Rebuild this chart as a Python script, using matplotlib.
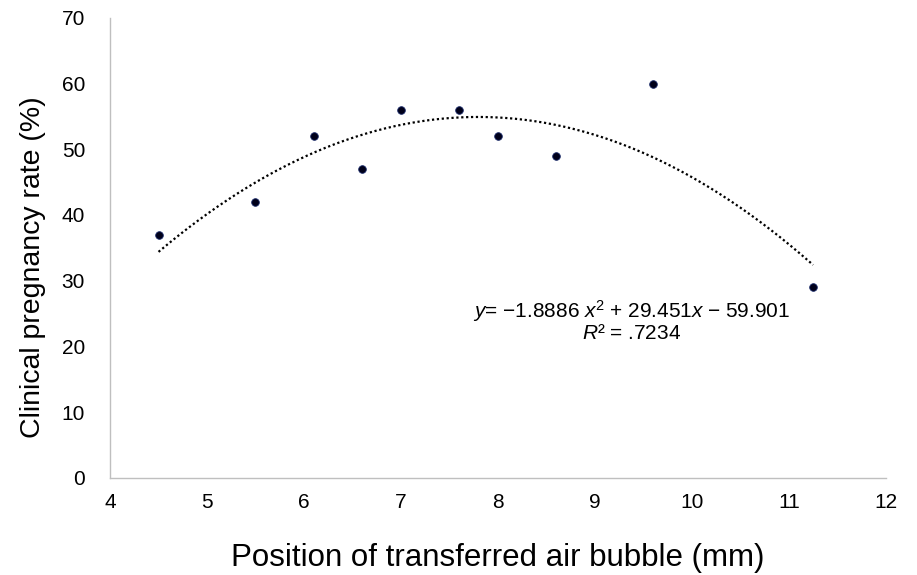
import numpy as np
import matplotlib.pyplot as plt

plt.rcParams["font.family"] = ["Liberation Sans", "DejaVu Sans"]
plt.rcParams["mathtext.fontset"] = "custom"
plt.rcParams["mathtext.rm"] = "Liberation Sans"
plt.rcParams["mathtext.it"] = "Liberation Sans:italic"

# data
position_mm = [4.5, 5.5, 6.1, 6.6, 7.0, 7.6, 8.0, 8.6, 9.6, 11.25]
pregnancy_rate = [37, 42, 52, 47, 56, 56, 52, 49, 60, 29]

# quadratic trendline as printed on the chart
trend_coef = [-1.8886, 29.451, -59.901]
r_squared = ".7234"

fig = plt.figure(figsize=(9.17, 5.75), dpi=100)
ax = fig.add_axes([0.12, 0.169, 0.846, 0.8])

xs = np.linspace(min(position_mm), max(position_mm), 200)
ax.plot(xs, np.polyval(trend_coef, xs), color="black", linestyle=(0, (1, 1.2)), linewidth=1.6)

ax.plot(position_mm, pregnancy_rate, "o", markersize=5.5,
        markerfacecolor="#00001a", markeredgecolor="#1a2a6a", markeredgewidth=0.6)

ax.set_xlim(4, 12)
ax.set_ylim(0, 70)
ax.set_xticks(range(4, 13))
ax.set_yticks(range(0, 71, 10))
ax.tick_params(length=0, labelsize=15, colors="black")
ax.tick_params(axis="x", pad=11)
ax.tick_params(axis="y", pad=18)

for s in ["top", "right"]:
    ax.spines[s].set_visible(False)
for s in ["left", "bottom"]:
    ax.spines[s].set_color("#bfbfbf")
    ax.spines[s].set_linewidth(1.0)

ax.set_xlabel("Position of transferred air bubble (mm)", fontsize=22.5, labelpad=22)
ax.set_ylabel("Clinical pregnancy rate (%)", fontsize=20.5)
ax.yaxis.set_label_coords(-0.083, 0.457)

eq = (r"$y$" + "= \u22121.8886 " + r"$x$" + r"$^2$" + " + 29.451" + r"$x$" + " \u2212 59.901")
ax.text(9.38, 25.4, eq, fontsize=15, ha="center", va="center")
ax.text(9.38, 21.9, r"$R$" + "\u00b2 = " + r_squared, fontsize=15, ha="center", va="center")

fig.savefig("out.png", dpi=100)
